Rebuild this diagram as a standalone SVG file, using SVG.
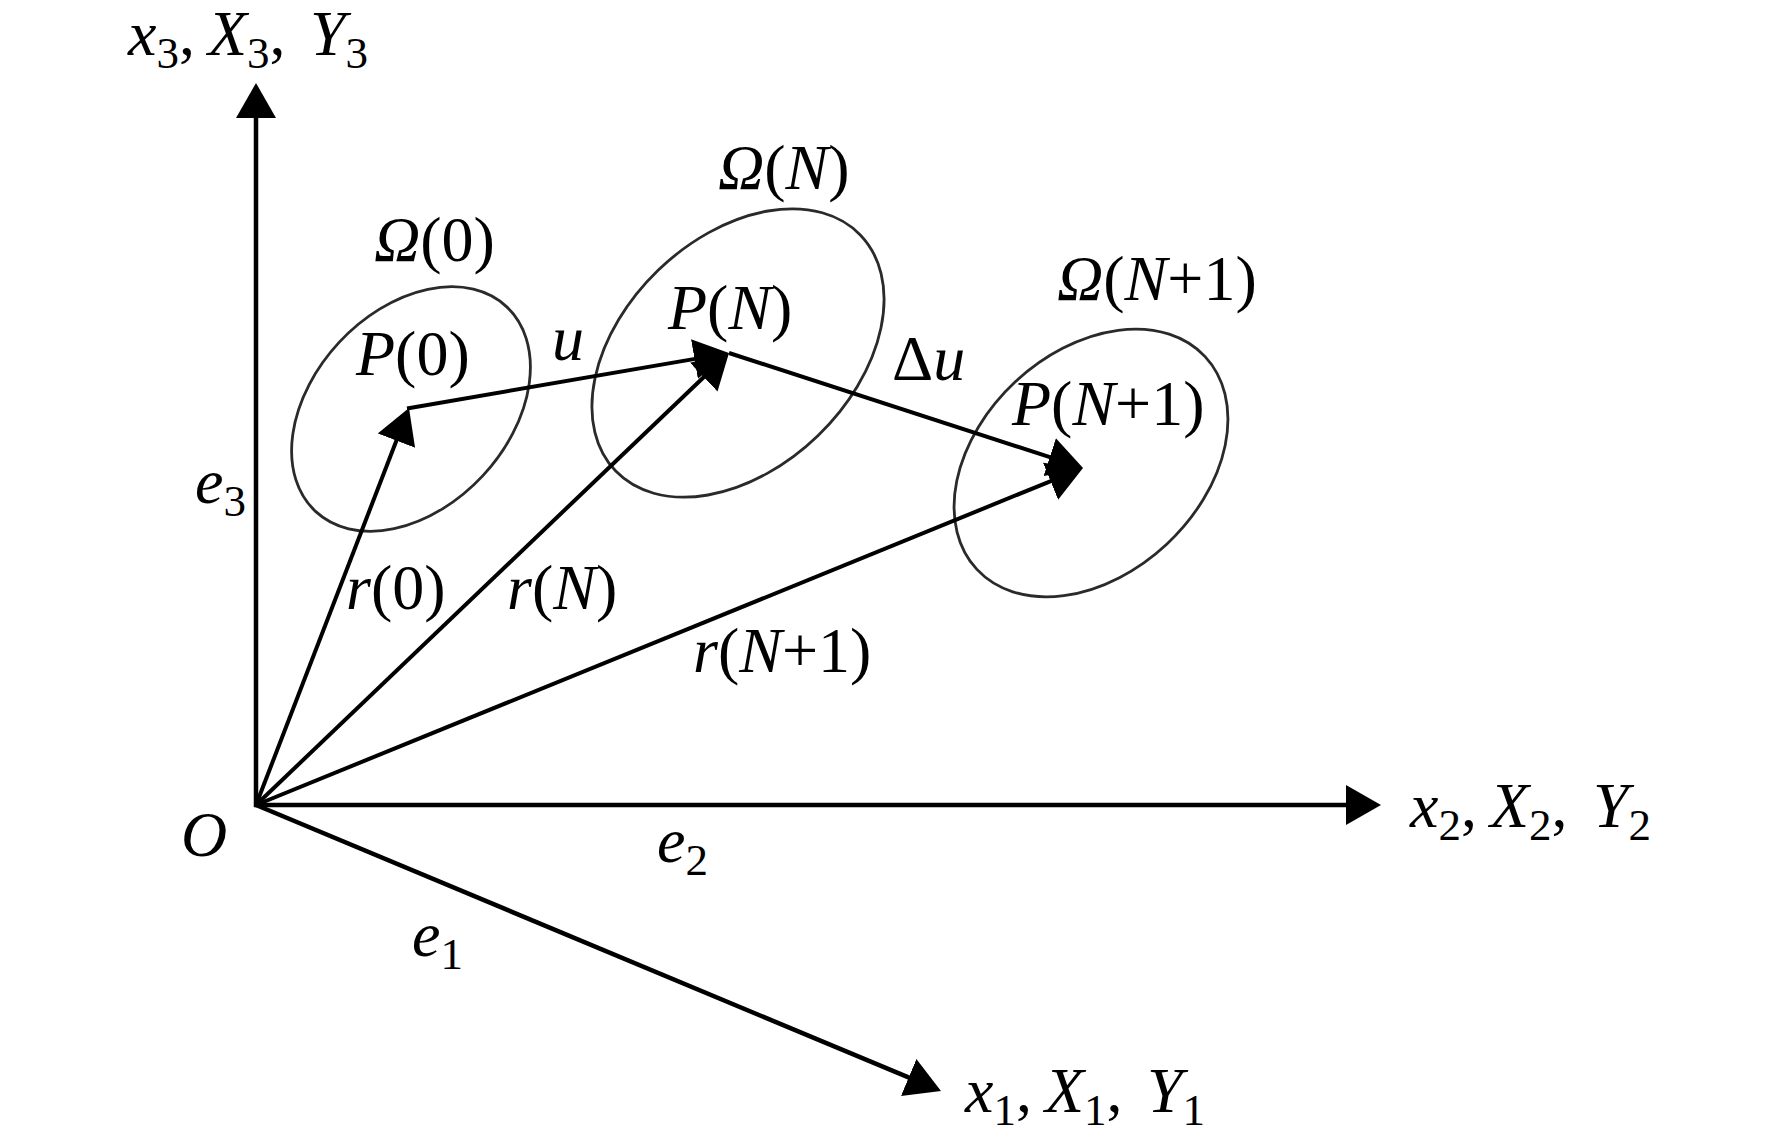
<svg xmlns="http://www.w3.org/2000/svg" width="1772" height="1145" viewBox="0 0 1772 1145">
<style>
text{font-family:"Liberation Serif","Times New Roman",serif;font-size:64px;fill:#000}
.i{font-style:italic}
.s{font-size:45px;font-style:normal}
.ax{stroke:#000;stroke-width:4.5;fill:none;marker-end:url(#ah)}
.vec{stroke:#000;stroke-width:4;fill:none;marker-end:url(#ah)}
.reg{fill:none;stroke:#2a2a2a;stroke-width:2.8}
</style>
<defs>
<marker id="ah" markerUnits="userSpaceOnUse" viewBox="0 0 35 40" refX="5" refY="20" markerWidth="35" markerHeight="40" orient="auto">
<path d="M0,0 L35,20 L0,40 Z" fill="#000"/>
</marker>
</defs>
<rect width="1772" height="1145" fill="#fff"/>

<g id="regions">
<ellipse id="omega0" class="reg" cx="411" cy="409" rx="140" ry="98" transform="rotate(-47 411 409)"/>
<ellipse id="omegaN" class="reg" cx="738" cy="353" rx="170" ry="115" transform="rotate(-44 738 353)"/>
<ellipse id="omegaN1" class="reg" cx="1091" cy="463" rx="156" ry="111" transform="rotate(-43 1091 463)"/>
</g>

<g id="connectors">
<line class="ax" x1="256" y1="807" x2="256" y2="113"/>
<line class="ax" x1="254" y1="805" x2="1351" y2="805"/>
<line class="ax" x1="256" y1="805" x2="913.3" y2="1079.4"/>
<line class="vec" x1="256" y1="805" x2="398.2" y2="436"/>
<line class="vec" x1="256" y1="805" x2="707.3" y2="373.7"/>
<line class="vec" x1="256" y1="805" x2="1055.2" y2="479.3"/>
<line class="vec" x1="407" y1="408.5" x2="699.4" y2="358.1"/>
<line class="vec" x1="729" y1="353" x2="1054.5" y2="458.7"/>
</g>

<g id="labels">
<text id="lbl-x3"><tspan class="i" x="128" y="55">x</tspan><tspan class="s" dy="13">3</tspan><tspan dy="-13">,</tspan><tspan class="i" x="208" y="55">X</tspan><tspan class="s" dy="13">3</tspan><tspan dy="-13">,</tspan><tspan class="i" x="310" y="55">Y</tspan><tspan class="s" dy="13">3</tspan></text>
<text id="lbl-x2"><tspan class="i" x="1410" y="827">x</tspan><tspan class="s" dy="13">2</tspan><tspan dy="-13">,</tspan><tspan class="i" x="1490" y="827">X</tspan><tspan class="s" dy="13">2</tspan><tspan dy="-13">,</tspan><tspan class="i" x="1593" y="827">Y</tspan><tspan class="s" dy="13">2</tspan></text>
<text id="lbl-x1"><tspan class="i" x="965" y="1112">x</tspan><tspan class="s" dy="13">1</tspan><tspan dy="-13">,</tspan><tspan class="i" x="1045" y="1112">X</tspan><tspan class="s" dy="13">1</tspan><tspan dy="-13">,</tspan><tspan class="i" x="1147" y="1112">Y</tspan><tspan class="s" dy="13">1</tspan></text>
<text id="lbl-O" class="i" x="181" y="856">O</text>
<text id="lbl-e3" x="195" y="503"><tspan class="i">e</tspan><tspan class="s" dy="13">3</tspan></text>
<text id="lbl-e2" x="657" y="862"><tspan class="i">e</tspan><tspan class="s" dy="13">2</tspan></text>
<text id="lbl-e1" x="412" y="956"><tspan class="i">e</tspan><tspan class="s" dy="13">1</tspan></text>
<text id="lbl-om0" x="374" y="261"><tspan class="i">Ω</tspan>(0)</text>
<text id="lbl-omN" x="718" y="189"><tspan class="i">Ω</tspan>(<tspan class="i">N</tspan>)</text>
<text id="lbl-omN1" x="1057" y="300"><tspan class="i">Ω</tspan>(<tspan class="i">N</tspan>+1)</text>
<text id="lbl-P0" x="356" y="375"><tspan class="i">P</tspan>(0)</text>
<text id="lbl-PN" x="668" y="329"><tspan class="i">P</tspan>(<tspan class="i">N</tspan>)</text>
<text id="lbl-PN1" x="1012" y="425"><tspan class="i">P</tspan>(<tspan class="i">N</tspan>+1)</text>
<text id="lbl-u" class="i" x="552" y="360">u</text>
<text id="lbl-du" x="892" y="380">Δ<tspan class="i">u</tspan></text>
<text id="lbl-r0" x="346" y="609"><tspan class="i">r</tspan>(0)</text>
<text id="lbl-rN" x="507" y="609"><tspan class="i">r</tspan>(<tspan class="i">N</tspan>)</text>
<text id="lbl-rN1" x="693" y="672"><tspan class="i">r</tspan>(<tspan class="i">N</tspan>+1)</text>
</g>
</svg>
